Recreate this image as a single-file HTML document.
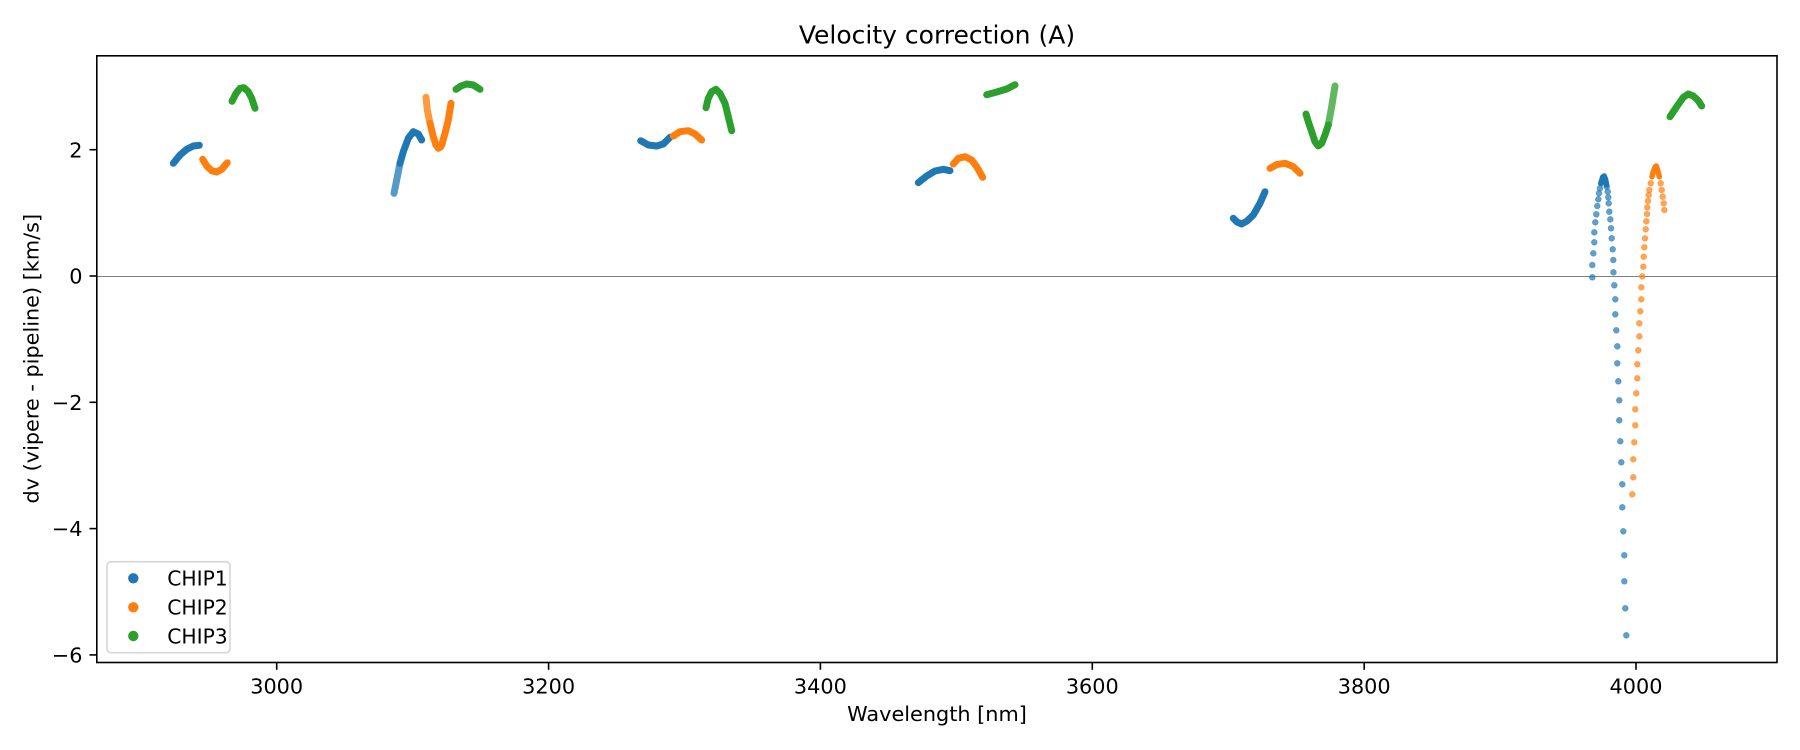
<!DOCTYPE html>
<html>
<head>
<meta charset="utf-8">
<style>
html,body{margin:0;padding:0;background:#fff;}
svg{display:block;}
text{font-family:"DejaVu Sans","Liberation Sans",sans-serif;fill:#000;}
</style>
</head>
<body>
<svg width="1800" height="750" viewBox="0 0 1800 750" xmlns="http://www.w3.org/2000/svg">
<rect x="0" y="0" width="1800" height="750" fill="#fff"/>

<!-- zero line -->
<line x1="97" y1="276.5" x2="1777" y2="276.5" stroke="#808080" stroke-width="1"/>

<g fill="none" stroke-linecap="round" stroke-linejoin="round" stroke-width="7">
<!-- Cluster 1 -->
<polyline stroke="#1f77b4" points="173.3,163.3 180,155 186.7,149.3 193.3,146 199.3,145.3"/>
<polyline stroke="#ff7f0e" points="202.7,159.3 206.7,166 211.7,170.7 216.7,172 221.7,169.3 227.3,162.7"/>
<polyline stroke="#2ca02c" points="232,101.3 236,93.3 240,88.3 244,87.7 248.3,91.7 251.7,98.3 255,108.3"/>
<!-- Cluster 2 -->
<polyline stroke="#1f77b4" stroke-opacity="0.75" points="394,193.3 396.7,180 400,163.3"/>
<polyline stroke="#1f77b4" points="400,163.3 403.3,151.7 408.3,138.3 413.3,131.7 418.3,134 421.7,140"/>
<polyline stroke="#ff7f0e" stroke-opacity="0.8" points="426,97.3 427.3,110 430,123.3"/>
<polyline stroke="#ff7f0e" points="430,123.3 433.3,136.7 436,145 438.3,148.3 440.5,147 441.7,145 445,133.3 448.3,120 451,103.3"/>
<polyline stroke="#2ca02c" points="456,89.3 461,86 466.7,84 473.3,85 480,89.3"/>
<!-- Cluster 3 -->
<polyline stroke="#1f77b4" points="640.7,140.7 648.3,145 656.7,146 663.3,144 670,137.3"/>
<polyline stroke="#ff7f0e" points="673.3,136 680,131.7 688.3,130.7 695,134 701.7,140"/>
<polyline stroke="#2ca02c" points="706,107.7 708.3,98.3 711.7,91.7 716,89.3 720,93.3 725,103.3 728.3,116.7 731.7,130.7"/>
<!-- Cluster 4 -->
<polyline stroke="#1f77b4" points="918.3,182.7 926.7,176 935,171 943.3,169.3 950,170.7"/>
<polyline stroke="#ff7f0e" points="953.3,164 958.3,158.3 965,156.7 971.7,160 976.7,166.7 982.7,177.3"/>
<polyline stroke="#2ca02c" points="986.7,94.7 996.7,92 1006.7,89 1015,84.7"/>
<!-- Cluster 5 -->
<polyline stroke="#1f77b4" points="1233.3,218.3 1237,222 1241.7,224 1247,221 1253.3,215 1260,203.3 1265,191.7"/>
<polyline stroke="#ff7f0e" points="1270,168.3 1277,164.5 1285,163.3 1293,166.5 1300,173.3"/>
<polyline stroke="#2ca02c" points="1306,114 1308.3,121.7 1311.7,131.7 1315,141.7 1318.3,146 1321.7,143.3 1325,135 1328.3,125"/>
<polyline stroke="#2ca02c" stroke-opacity="0.75" points="1328.3,125 1331.7,106.7 1335,86"/>
<!-- Cluster 6 -->
<polyline stroke="#2ca02c" points="1670,116.7 1676.7,106.7 1683.3,97.3 1688.3,94 1693.3,96 1698.3,100.7 1701.7,106"/>
<polyline stroke="#1f77b4" stroke-width="5.5" points="1601,183 1602.7,177 1604.2,176 1605.6,179.5 1606.6,185"/>
<polyline stroke="#ff7f0e" stroke-width="5.5" points="1652,176.7 1653.3,171.7 1655.3,166.7 1656.3,166 1658,171.7 1659.3,176.7"/>
</g>

<!-- dip dots -->
<g fill="#1f77b4" fill-opacity="0.7" stroke="#1f77b4" stroke-opacity="0.5" stroke-width="0.8">
<circle cx="1592.3" cy="277.3" r="2.9"/><circle cx="1592.3" cy="265" r="2.9"/><circle cx="1593.3" cy="253.3" r="2.9"/>
<circle cx="1594.3" cy="242.3" r="2.9"/><circle cx="1594.3" cy="232.3" r="2.9"/><circle cx="1595.3" cy="222.3" r="2.9"/>
<circle cx="1596.3" cy="214.3" r="2.9"/><circle cx="1597.3" cy="206" r="2.9"/><circle cx="1598.3" cy="199.3" r="2.9"/>
<circle cx="1599" cy="193.3" r="2.9"/><circle cx="1600" cy="188.3" r="2.9"/><circle cx="1601" cy="183.3" r="2.9"/>
<circle cx="1606.7" cy="186.7" r="2.9"/><circle cx="1607.7" cy="191.7" r="2.9"/><circle cx="1608.3" cy="197.3" r="2.9"/>
<circle cx="1608.7" cy="203.3" r="2.9"/><circle cx="1609.3" cy="211.7" r="2.9"/><circle cx="1610.3" cy="219.3" r="2.9"/>
<circle cx="1611" cy="228.3" r="2.9"/><circle cx="1611.7" cy="238.3" r="2.9"/><circle cx="1612.7" cy="249.3" r="2.9"/>
<circle cx="1613.3" cy="260" r="2.9"/><circle cx="1613.5" cy="272.3" r="2.9"/><circle cx="1614.3" cy="285.3" r="2.9"/>
<circle cx="1615.3" cy="299.3" r="2.9"/><circle cx="1615.3" cy="314.3" r="2.9"/><circle cx="1616.3" cy="330.3" r="2.9"/>
<circle cx="1617.3" cy="346.3" r="2.9"/><circle cx="1617.3" cy="363.3" r="2.9"/><circle cx="1618.3" cy="381.3" r="2.9"/>
<circle cx="1619.3" cy="400.3" r="2.9"/><circle cx="1619.3" cy="420.3" r="2.9"/><circle cx="1620.3" cy="441.3" r="2.9"/>
<circle cx="1621.3" cy="462.3" r="2.9"/><circle cx="1622.3" cy="484.3" r="2.9"/><circle cx="1622.3" cy="507.3" r="2.9"/>
<circle cx="1623.3" cy="531.3" r="2.9"/><circle cx="1624.3" cy="555.3" r="2.9"/><circle cx="1624.3" cy="581.3" r="2.9"/>
<circle cx="1625.3" cy="608.3" r="2.9"/><circle cx="1626.3" cy="635.3" r="2.9"/>
</g>
<g fill="#ff7f0e" fill-opacity="0.7" stroke="#ff7f0e" stroke-opacity="0.5" stroke-width="0.8">
<circle cx="1632.3" cy="494.3" r="2.9"/><circle cx="1633.3" cy="477.3" r="2.9"/><circle cx="1633.3" cy="459.3" r="2.9"/>
<circle cx="1634.3" cy="442.3" r="2.9"/><circle cx="1635.3" cy="425.3" r="2.9"/><circle cx="1635.3" cy="409.3" r="2.9"/>
<circle cx="1636.3" cy="393.3" r="2.9"/><circle cx="1637.3" cy="378.3" r="2.9"/><circle cx="1637.3" cy="364.3" r="2.9"/>
<circle cx="1638.3" cy="350.3" r="2.9"/><circle cx="1639.3" cy="336.3" r="2.9"/><circle cx="1639.3" cy="323.3" r="2.9"/>
<circle cx="1640.3" cy="311.3" r="2.9"/><circle cx="1641.3" cy="299.3" r="2.9"/><circle cx="1641.3" cy="287.3" r="2.9"/>
<circle cx="1642.3" cy="276.3" r="2.9"/><circle cx="1643.3" cy="266.7" r="2.9"/><circle cx="1643.7" cy="256.7" r="2.9"/>
<circle cx="1644.3" cy="247.3" r="2.9"/><circle cx="1645" cy="238.3" r="2.9"/><circle cx="1645.7" cy="229.3" r="2.9"/>
<circle cx="1646.3" cy="221.3" r="2.9"/><circle cx="1647" cy="214" r="2.9"/><circle cx="1647.3" cy="207.3" r="2.9"/>
<circle cx="1648" cy="201" r="2.9"/><circle cx="1648.7" cy="195" r="2.9"/><circle cx="1649.3" cy="190" r="2.9"/>
<circle cx="1650.7" cy="183.3" r="2.9"/>
<circle cx="1660.7" cy="183.3" r="2.9"/><circle cx="1661.7" cy="190" r="2.9"/><circle cx="1662.7" cy="196.7" r="2.9"/>
<circle cx="1663.7" cy="203.3" r="2.9"/><circle cx="1664.3" cy="210" r="2.9"/>
</g>

<!-- axes frame -->
<rect x="96.8" y="55.8" width="1680.2" height="606.7" fill="none" stroke="#000" stroke-width="1.6"/>

<!-- x ticks -->
<g stroke="#000" stroke-width="1.6">
<line x1="276.7" y1="662.5" x2="276.7" y2="669.8"/>
<line x1="548.6" y1="662.5" x2="548.6" y2="669.8"/>
<line x1="820.4" y1="662.5" x2="820.4" y2="669.8"/>
<line x1="1092.3" y1="662.5" x2="1092.3" y2="669.8"/>
<line x1="1364.2" y1="662.5" x2="1364.2" y2="669.8"/>
<line x1="1636" y1="662.5" x2="1636" y2="669.8"/>
<!-- y ticks -->
<line x1="89.5" y1="149.7" x2="96.8" y2="149.7"/>
<line x1="89.5" y1="276" x2="96.8" y2="276"/>
<line x1="89.5" y1="402.3" x2="96.8" y2="402.3"/>
<line x1="89.5" y1="528.6" x2="96.8" y2="528.6"/>
<line x1="89.5" y1="654.9" x2="96.8" y2="654.9"/>
</g>

<g font-size="20.8" text-anchor="middle">
<text x="276.7" y="693.5">3000</text>
<text x="548.6" y="693.5">3200</text>
<text x="820.4" y="693.5">3400</text>
<text x="1092.3" y="693.5">3600</text>
<text x="1364.2" y="693.5">3800</text>
<text x="1636" y="693.5">4000</text>
</g>
<g font-size="20.8" text-anchor="end">
<text x="82.5" y="157.3">2</text>
<text x="82.5" y="283.6">0</text>
<text x="82.5" y="409.9">−2</text>
<text x="82.5" y="536.2">−4</text>
<text x="82.5" y="662.5">−6</text>
</g>

<text x="937" y="43.5" font-size="25" text-anchor="middle">Velocity correction (A)</text>
<text x="937" y="721" font-size="20.8" text-anchor="middle">Wavelength [nm]</text>
<text x="0" y="0" font-size="20.8" text-anchor="middle" dominant-baseline="central" transform="translate(31.5,358.7) rotate(-90)">dv (vipere - pipeline) [km/s]</text>

<!-- legend -->
<rect x="107" y="561.7" width="123" height="91" rx="4" ry="4" fill="#fff" fill-opacity="0.8" stroke="#d6d6d6" stroke-width="1.6"/>
<circle cx="133.3" cy="578.3" r="5.2" fill="#1f77b4"/>
<circle cx="133.3" cy="607.3" r="5.2" fill="#ff7f0e"/>
<circle cx="133.3" cy="636" r="5.2" fill="#2ca02c"/>
<g font-size="20.3">
<text x="167.2" y="585.6">CHIP1</text>
<text x="167.2" y="614.6">CHIP2</text>
<text x="167.2" y="643.3">CHIP3</text>
</g>
</svg>
</body>
</html>
